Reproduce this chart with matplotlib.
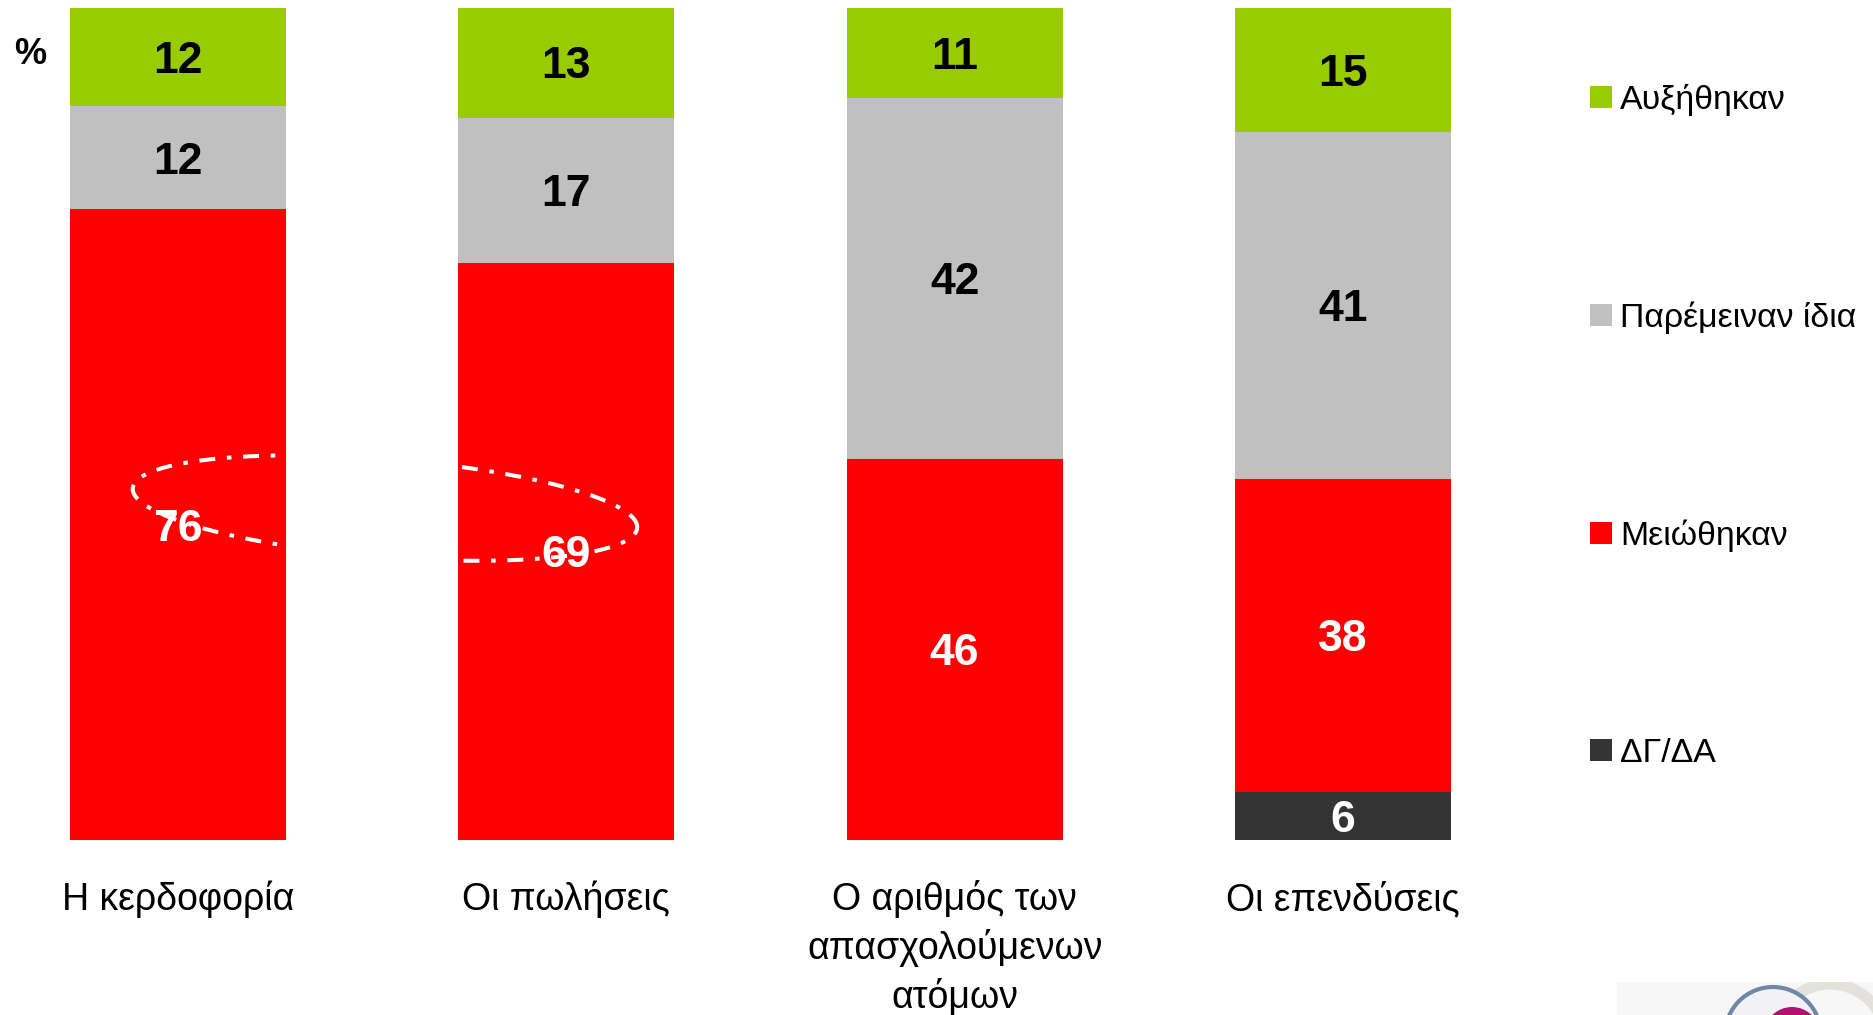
import numpy as np
import matplotlib
matplotlib.use("Agg")
import matplotlib.pyplot as plt
from matplotlib.patches import Rectangle, Circle
from matplotlib.transforms import IdentityTransform

plt.rcParams['font.family'] = ['Liberation Sans', 'DejaVu Sans']
plt.rcParams['lines.scale_dashes'] = False

# ---------------- data ----------------
categories = ["Η κερδοφορία", "Οι πωλήσεις", "Ο αριθμός των\nαπασχολούμενων\nατόμων", "Οι επενδύσεις"]
series_names = ["Αυξήθηκαν", "Παρέμειναν ίδια", "Μειώθηκαν", "ΔΓ/ΔΑ"]
series_colors = ["#99CC00", "#C0C0C0", "#FF0000", "#333333"]
label_colors = ["black", "black", "white", "white"]

increased = [11.8, 13.3, 10.8, 15.0]
same = [12.4, 17.4, 43.4, 41.7]
decreased = [75.8, 69.4, 45.8, 37.6]
dkna = [0.0, 0.0, 0.0, 5.8]

increased_lbl = ["12", "13", "11", "15"]
same_lbl = ["12", "17", "42", "41"]
decreased_lbl = ["76", "69", "46", "38"]
dkna_lbl = ["", "", "", "6"]

# ---------------- figure ----------------
W, H, DPI = 1874, 1015, 100
fig = plt.figure(figsize=(W / DPI, H / DPI), dpi=DPI)
fig.patch.set_facecolor("white")

spacing = 388.3
x0_px = 178
left_px = x0_px - 0.45 * spacing
ax = fig.add_axes([left_px / W, (H - 840) / H, 3.9 * spacing / W, 832 / H])
ax.set_xlim(-0.45, 3.45)
ax.set_ylim(0, 100)
ax.axis("off")

x = np.arange(len(categories))
bar_w = 0.556

stack = [dkna, decreased, same, increased]
stack_lbl = [dkna_lbl, decreased_lbl, same_lbl, increased_lbl]
stack_col = [series_colors[3], series_colors[2], series_colors[1], series_colors[0]]
stack_txt = [label_colors[3], label_colors[2], label_colors[1], label_colors[0]]

bottom = np.zeros(len(categories))
for vals, lbls, col, tcol in zip(stack, stack_lbl, stack_col, stack_txt):
    vals = np.array(vals)
    ax.bar(x, vals, bar_w, bottom=bottom, color=col, edgecolor="none", zorder=2)
    for xi, v, b, l in zip(x, vals, bottom, lbls):
        if v > 0 and l:
            ax.text(xi, b + v / 2, l, ha="center", va="center_baseline",
                    fontsize=32, fontweight="bold", color=tcol, zorder=5)
    bottom += vals

# category labels (one text per line)
px_per_unit = 832 / 100
for xi, c in zip(x, categories):
    for i, line in enumerate(c.split("\n")):
        yb = -(70 + 49 * i) / px_per_unit
        ax.text(xi, yb, line, ha="center", va="baseline", fontsize=27,
                color="black", clip_on=False)

# percent sign
fig.text(30 / W, 1 - 55 / H, "%", ha="center", va="center", fontsize=26,
         fontweight="bold", color="black")

# legend (manual)
legend_y = [97, 315, 533, 750]
for name, col, yy in zip(series_names, series_colors, legend_y):
    fig.patches.append(Rectangle((1590 / W, 1 - (yy + 11) / H), 22 / W, 22 / H,
                                 transform=fig.transFigure, facecolor=col,
                                 edgecolor="none"))
    fig.text(1620 / W, 1 - (yy + 12) / H, name, ha="left", va="baseline",
             fontsize=24.4, color="black")

# dash-dot ellipse highlight (white)
fig.canvas.draw()
cx, cy = ax.transData.transform((0.533, 39.9))
a_px, b_px, th = 253, 49, np.deg2rad(-4.5)
t = np.linspace(0, 2 * np.pi, 400)
ex = cx + a_px * np.cos(t) * np.cos(th) - b_px * np.sin(t) * np.sin(th)
ey = cy + a_px * np.cos(t) * np.sin(th) + b_px * np.sin(t) * np.cos(th)
ax.plot(ex, ey, color="white", lw=2.9, transform=IdentityTransform(),
        linestyle=(0, (11.5, 8.4, 3.3, 8.4)), zorder=4, clip_on=False)

# logo fragment (bottom right)
logo_ax = fig.add_axes([1617 / W, 0, (W - 1617) / W, 33 / H])
logo_ax.set_xlim(1617, W)
logo_ax.set_ylim(H, 982)
logo_ax.axis("off")
logo_ax.add_patch(Rectangle((1617, 982), W - 1617, 33, facecolor="#F7F7F7",
                            edgecolor="none", zorder=0))
logo_ax.add_patch(Circle((1830, 1040), 56, facecolor="none", edgecolor="#E2E2DA",
                         lw=8, zorder=1))
logo_ax.add_patch(Circle((1773, 1035), 48, facecolor="#F2F2F5", edgecolor="#7088A5",
                         lw=3, zorder=2))
logo_ax.add_patch(Circle((1792, 1035), 28, facecolor="#B01070", edgecolor="none",
                         zorder=3))

fig.savefig("out.png", dpi=DPI, facecolor="white")
